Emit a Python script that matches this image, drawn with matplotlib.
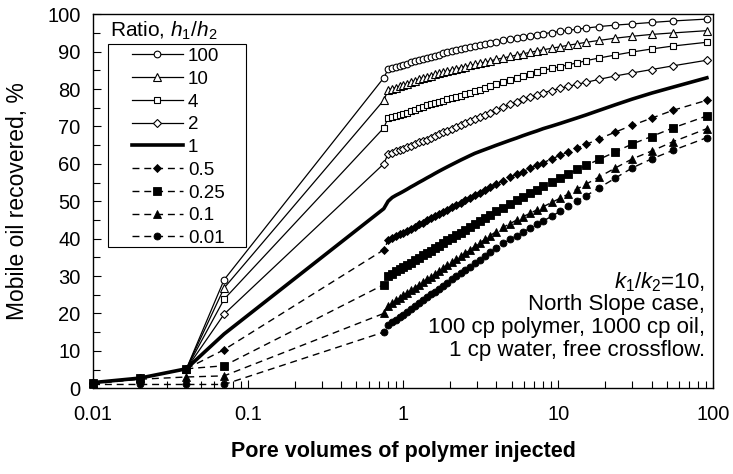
import matplotlib
matplotlib.use("Agg")
import matplotlib.pyplot as plt
from matplotlib.patches import Rectangle

plt.rcParams['font.family'] = ['Liberation Sans', 'DejaVu Sans']
plt.rcParams['mathtext.fontset'] = 'custom'
plt.rcParams['mathtext.rm'] = 'Liberation Sans'
plt.rcParams['mathtext.it'] = 'Liberation Sans:italic'

# pore volumes injected (shared by all series)
pv = [0.01, 0.02, 0.04, 0.07, 0.75,
      0.8, 0.85, 0.9, 0.95, 1.0, 1.06, 1.12, 1.19, 1.26, 1.34, 1.42, 1.51,
      1.6, 1.7, 1.81, 1.93, 2.06, 2.2, 2.35, 2.52, 2.7, 2.9, 3.12, 3.36,
      3.62, 3.95, 4.4, 4.9, 5.4, 5.9, 6.6, 7.3, 8.0, 9.1, 10.3, 11.6, 13.3,
      15.2, 18.4, 23.4, 30, 40, 55, 91]

ratio_100 = [1.5, 2.7, 5.2, 29.0, 83.0,
             85.3, 85.6, 85.9, 86.2, 86.5, 86.8, 87.1, 87.4, 87.7, 88.0, 88.3, 88.6,
             88.9, 89.2, 89.5, 89.8, 90.1, 90.4, 90.7, 91.0, 91.3, 91.6, 91.9, 92.1,
             92.4, 92.7, 93.0, 93.3, 93.6, 93.9, 94.2, 94.5, 94.8, 95.1, 95.4, 95.7, 96.0,
             96.3, 96.7, 97.1, 97.4, 97.8, 98.2, 98.7]
ratio_10 = [1.5, 2.7, 5.2, 26.8, 77.0,
            79.7, 80.1, 80.4, 80.7, 81.0, 81.4, 81.8, 82.2, 82.6, 83.0, 83.3, 83.6,
            83.9, 84.2, 84.5, 84.8, 85.1, 85.4, 85.7, 86.0, 86.3, 86.6, 86.9, 87.2,
            87.5, 87.9, 88.3, 88.7, 89.1, 89.4, 89.8, 90.2, 90.5, 90.9, 91.3, 91.7, 92.1,
            92.5, 93.0, 93.6, 94.1, 94.6, 95.0, 95.6]
ratio_4 = [1.5, 2.7, 5.2, 23.8, 69.6,
           72.3, 72.6, 72.8, 73.0, 73.3, 73.7, 74.1, 74.5, 74.9, 75.3, 75.6, 75.9,
           76.2, 76.6, 76.9, 77.2, 77.5, 77.8, 78.2, 78.6, 79.0, 79.4, 79.8, 80.3,
           80.8, 81.4, 82.0, 82.5, 83.0, 83.5, 84.0, 84.5, 85.0, 85.5, 86.0, 86.5, 87.0,
           87.6, 88.3, 89.1, 89.9, 90.7, 91.5, 92.5]
ratio_2 = [1.5, 2.7, 5.2, 19.8, 60.0,
           62.7, 63.0, 63.3, 63.6, 64.0, 64.4, 64.8, 65.2, 65.7, 66.1, 66.5, 67.0,
           67.4, 67.9, 68.4, 68.9, 69.4, 69.9, 70.4, 70.9, 71.4, 71.9, 72.4, 73.0,
           73.6, 74.3, 75.1, 75.9, 76.6, 77.2, 77.9, 78.5, 79.0, 79.6, 80.2, 80.7, 81.3,
           81.8, 82.6, 83.5, 84.3, 85.2, 86.2, 87.7]
ratio_1 = [1.5, 2.7, 5.2, 14.5, 48.0,
           50.0, 51.0, 51.6, 52.1, 52.6, 53.2, 53.8, 54.4, 55.0, 55.6, 56.2, 56.8,
           57.4, 58.0, 58.6, 59.2, 59.8, 60.4, 61.0, 61.6, 62.2, 62.8, 63.3, 63.8,
           64.3, 64.9, 65.6, 66.3, 66.9, 67.5, 68.2, 68.8, 69.4, 70.1, 70.8, 71.5, 72.3,
           73.1, 74.3, 75.8, 77.3, 78.9, 80.5, 83.0]
ratio_05 = [1.5, 2.6, 5.2, 10.3, 37.0,
            39.5, 40.1, 40.6, 41.1, 41.6, 42.1, 42.7, 43.2, 43.8, 44.3, 44.9, 45.5,
            46.0, 46.6, 47.1, 47.7, 48.4, 49.0, 49.6, 50.3, 50.9, 51.6, 52.3, 53.0,
            53.7, 54.5, 55.5, 56.4, 57.2, 57.9, 58.8, 59.6, 60.3, 61.3, 62.3, 63.2, 64.2,
            65.2, 66.7, 68.5, 70.3, 72.2, 74.3, 77.0]
ratio_025 = [1.5, 2.7, 5.2, 6.0, 27.7,
             30.0, 30.6, 31.3, 31.8, 32.4, 33.0, 33.6, 34.2, 34.9, 35.5, 36.2, 36.8,
             37.4, 38.1, 38.8, 39.5, 40.2, 40.9, 41.6, 42.3, 43.1, 43.9, 44.7, 45.5,
             46.3, 47.3, 48.3, 49.3, 50.2, 51.1, 52.1, 53.1, 54.0, 55.2, 56.3, 57.3, 58.5,
             59.6, 61.2, 63.2, 65.3, 67.3, 69.6, 72.8]
ratio_01 = [1.2, 2.4, 3.0, 3.3, 20.0,
            22.0, 22.7, 23.5, 24.1, 24.8, 25.5, 26.2, 26.9, 27.6, 28.4, 29.1, 29.8,
            30.5, 31.3, 32.1, 32.9, 33.7, 34.5, 35.3, 36.1, 37.0, 37.9, 38.8, 39.8,
            40.7, 41.8, 43.0, 44.0, 45.0, 45.8, 46.8, 47.7, 48.5, 49.7, 50.8, 51.9, 53.3,
            54.6, 56.5, 58.9, 61.3, 63.4, 65.9, 69.4]
ratio_001 = [1.0, 1.0, 1.0, 1.0, 15.0,
             16.8, 17.6, 18.3, 19.0, 19.7, 20.5, 21.2, 22.0, 22.7, 23.5, 24.3, 25.1,
             25.8, 26.6, 27.4, 28.2, 29.1, 29.9, 30.8, 31.7, 32.5, 33.5, 34.4, 35.4,
             36.4, 37.5, 38.7, 39.8, 40.8, 41.7, 42.8, 43.8, 44.7, 46.0, 47.3, 48.6, 50.1,
             51.5, 53.6, 56.2, 58.9, 61.3, 63.6, 67.0]

labels = ['100', '10', '4', '2', '1', '0.5', '0.25', '0.1', '0.01']
series = [ratio_100, ratio_10, ratio_4, ratio_2, ratio_1,
          ratio_05, ratio_025, ratio_01, ratio_001]
note_lines = ['$\\mathit{k_1/k_2}$=10,', 'North Slope case,',
              '100 cp polymer, 1000 cp oil,', '1 cp water, free crossflow.']

dash = (0, (5, 3.5))
styles = [
    dict(ls='-', lw=0.9, marker='o', ms=4.8, mfc='white', mew=0.8),
    dict(ls='-', lw=0.9, marker='^', ms=5.4, mfc='white', mew=0.8),
    dict(ls='-', lw=0.9, marker='s', ms=4.5, mfc='white', mew=0.8),
    dict(ls='-', lw=0.9, marker='D', ms=3.8, mfc='white', mew=0.8),
    dict(ls='-', lw=2.6, marker=None),
    dict(ls=dash, lw=1.0, marker='D', ms=4.2, mfc='black', mew=0.6),
    dict(ls=dash, lw=1.0, marker='s', ms=6.2, mfc='black', mew=0.6),
    dict(ls=dash, lw=1.0, marker='^', ms=5.6, mfc='black', mew=0.6),
    dict(ls=dash, lw=1.0, marker='o', ms=5.0, mfc='black', mew=0.6),
]

fig = plt.figure(figsize=(7.33, 4.74), dpi=100)
ax = fig.add_axes([0.127, 0.181, 0.846, 0.789])

handles = []
for lab, y, st in zip(labels, series, styles):
    z = 4 if lab == '0.25' else 3
    h, = ax.plot(pv, y, color='black', mec='black', label=lab, zorder=z,
                 clip_on=False, **st)
    handles.append(h)

ax.set_xscale('log')
ax.set_xlim(0.01, 100)
ax.set_ylim(0, 100)
ax.set_yticks(range(0, 101, 10))
ax.set_yticks(range(5, 100, 10), minor=True)
ax.set_xticks([0.01, 0.1, 1, 10, 100])
ax.set_xticklabels(['0.01', '0.1', '1', '10', '100'])
ax.tick_params(which='both', direction='in', labelsize=14.5, width=0.8,
               top=False, right=False)
ax.tick_params(which='major', length=6)
ax.tick_params(which='minor', length=5)
ax.tick_params(axis='x', which='both', pad=12)
ax.tick_params(axis='y', which='both', pad=9)
for s in ax.spines.values():
    s.set_linewidth(1.0)

ax.set_ylabel('Mobile oil recovered, %', fontsize=16.5)
ax.yaxis.set_label_coords(-0.104, 0.5)
ax.set_xlabel('Pore volumes of polymer injected', fontsize=15.5,
              fontweight='bold')
ax.xaxis.set_label_coords(0.5, -0.142)

# legend: entries without frame, box drawn separately
leg = ax.legend(handles=handles, loc='upper left',
                bbox_to_anchor=(0.062, 0.91), borderaxespad=0, borderpad=0,
                fontsize=13.5, handlelength=2.75, handletextpad=0.25,
                labelspacing=0.3, frameon=False)
ax.add_patch(Rectangle((0.0242, 0.377), 0.2226, 0.543, transform=ax.transAxes,
                       fill=False, edgecolor='black', lw=0.8, zorder=5))
ax.text(0.027, 0.939, r'Ratio, $\mathit{h_1/h_2}$', transform=ax.transAxes,
        fontsize=15, ha='left', va='baseline')

for yy, line in zip([0.267, 0.2086, 0.147, 0.0856], note_lines):
    ax.text(0.987, yy, line, transform=ax.transAxes, ha='right',
            va='baseline', fontsize=16)

fig.savefig('out.png', dpi=100)
